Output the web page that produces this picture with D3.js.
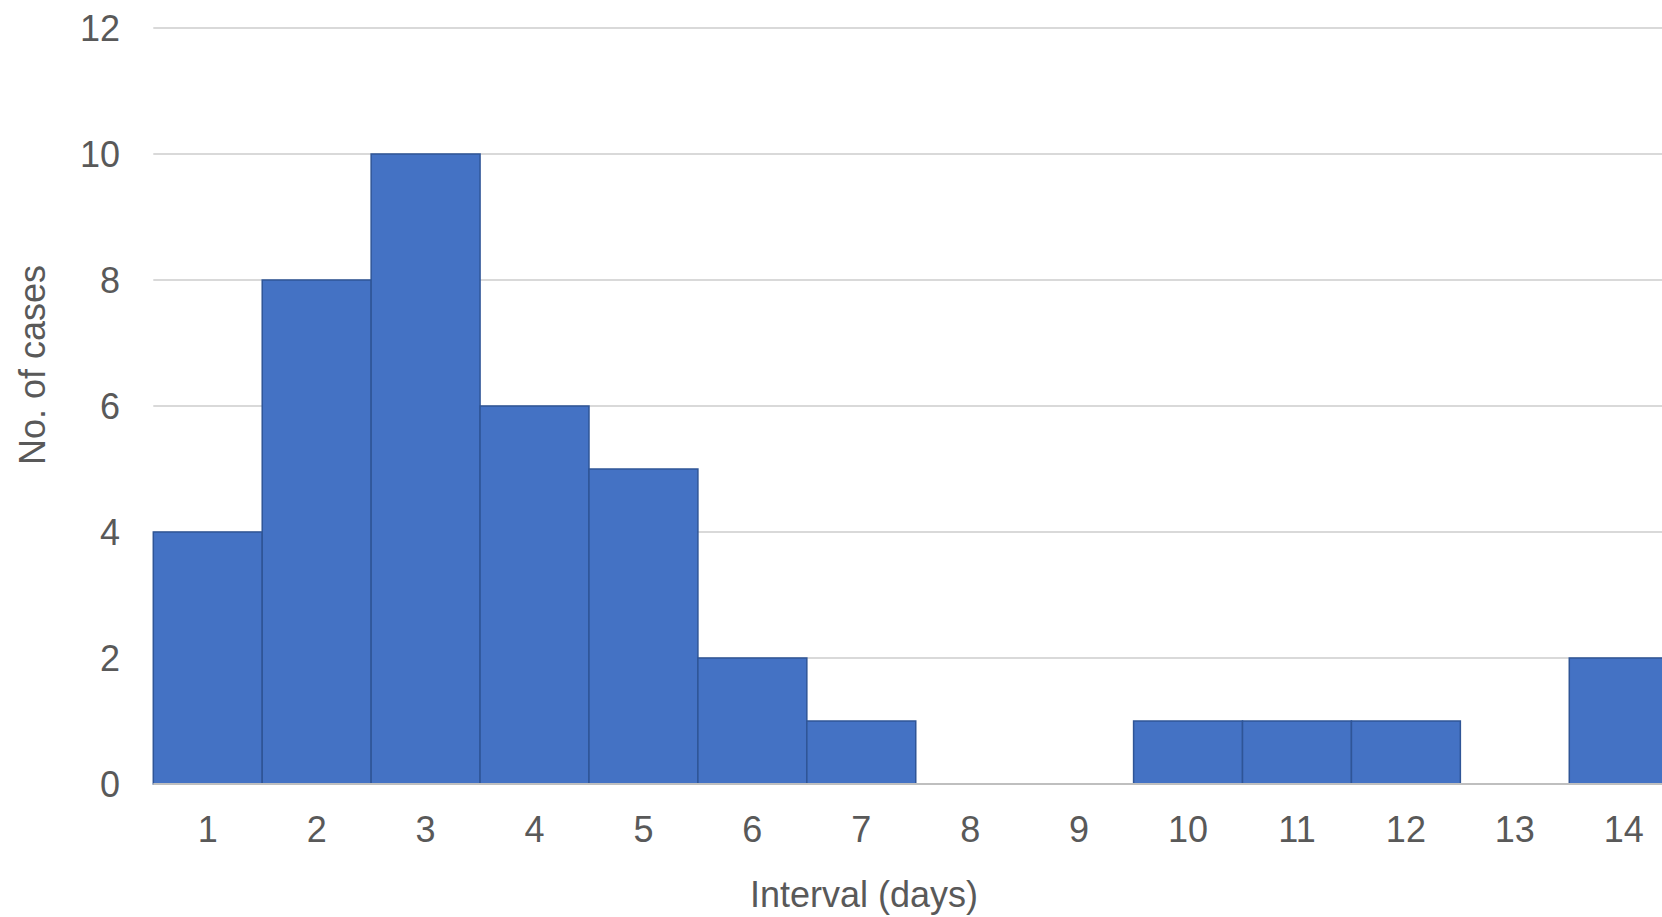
<!DOCTYPE html>
<html>
<head>
<meta charset="utf-8">
<script src="https://cdn.jsdelivr.net/npm/d3@7"></script>
<style>
  html, body { margin: 0; padding: 0; background: #fff; overflow: hidden; }
  svg { display: block; font-family: "Liberation Sans", Arial, sans-serif; }
</style>
</head>
<body>
<script>
    // interval in days, and number of cases in each
    var days = [1, 2, 3, 4, 5, 6, 7, 8, 9, 10, 11, 12, 13, 14];
    var cases = [4, 8, 10, 6, 5, 2, 1, 0, 0, 1, 1, 1, 0, 2];
    var yTicks = [0, 2, 4, 6, 8, 10, 12];

(function (d3) {
    'use strict';

    const width = 1662, height = 917;
    // plot runs past the right edge, as in the source image
    const plot = { left: 153.3, right: 1678.2, top: 28, bottom: 784 };

    var data = days.map(function (d, i) { return { day: d, n: cases[i] }; });

    var x = d3.scaleBand()
        .domain(days)
        .range([plot.left, plot.right])
        .padding(0);

    var y = d3.scaleLinear()
        .domain([0, 12])
        .range([plot.bottom, plot.top]);

    var svg = d3.select("body").append("svg")
        .attr("width", width)
        .attr("height", height);

    // gridlines
    svg.append("g")
        .selectAll("line")
        .data(yTicks.filter(function (t) { return t > 0; }))
        .enter().append("line")
        .attr("x1", plot.left)
        .attr("x2", plot.right)
        .attr("y1", function (d) { return y(d); })
        .attr("y2", function (d) { return y(d); })
        .attr("stroke", "#d9d9d9")
        .attr("stroke-width", 2);

    // bars
    svg.append("g")
        .selectAll("rect")
        .data(data.filter(function (d) { return d.n > 0; }))
        .enter().append("rect")
        .attr("x", function (d) { return x(d.day); })
        .attr("y", function (d) { return y(d.n); })
        .attr("width", x.bandwidth())
        .attr("height", function (d) { return y(0) - y(d.n); })
        .attr("fill", "#4472c4")
        .attr("stroke", "#2f5597")
        .attr("stroke-width", 1.5);

    // baseline
    svg.append("line")
        .attr("x1", plot.left)
        .attr("x2", plot.right)
        .attr("y1", y(0))
        .attr("y2", y(0))
        .attr("stroke", "#bfbfbf")
        .attr("stroke-width", 2);

    // y tick labels
    svg.append("g")
        .selectAll("text")
        .data(yTicks)
        .enter().append("text")
        .attr("x", 120)
        .attr("y", function (d) { return y(d); })
        .attr("dy", "0.36em")
        .attr("text-anchor", "end")
        .attr("font-size", 36)
        .attr("fill", "#595959")
        .text(function (d) { return d; });

    // x tick labels
    svg.append("g")
        .selectAll("text")
        .data(days)
        .enter().append("text")
        .attr("x", function (d) { return x(d) + x.bandwidth() / 2; })
        .attr("y", 842)
        .attr("text-anchor", "middle")
        .attr("font-size", 36)
        .attr("fill", "#595959")
        .text(function (d) { return d; });

    // axis titles
    svg.append("text")
        .attr("x", 864)
        .attr("y", 907)
        .attr("text-anchor", "middle")
        .attr("font-size", 36)
        .attr("fill", "#595959")
        .text("Interval (days)");

    svg.append("text")
        .attr("transform", "translate(45,365) rotate(-90)")
        .attr("text-anchor", "middle")
        .attr("font-size", 36)
        .attr("fill", "#595959")
        .text("No. of cases");

})(d3);
</script>
</body>
</html>
